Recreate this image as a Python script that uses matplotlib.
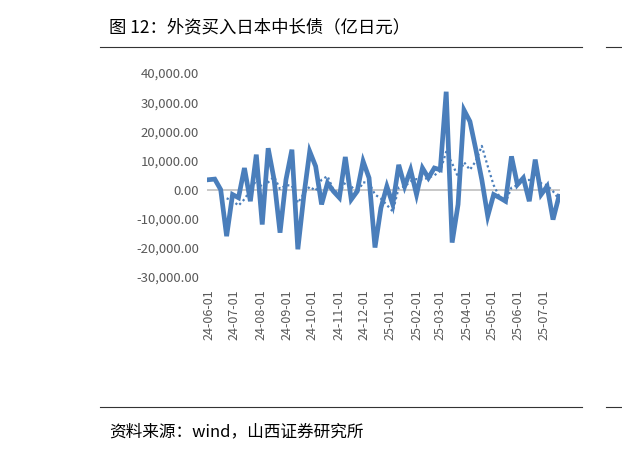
import matplotlib
matplotlib.use("Agg")
import matplotlib.pyplot as plt
import matplotlib.dates as mdates
import numpy as np

plt.rcParams['font.family'] = ['Noto Sans CJK SC', 'DejaVu Sans']

# weekly net purchases (100m yen)
weekly = [3400, 3600, 0, -16000, -1700, -2800, 7400, -4000, 12000, -12000,
          14200, 3400, -14800, 3400, 13700, -20500, -2300, 13100, 8000, -5100,
          2300, -600, -2800, 11200, -3400, -600, 9700, 4000, -19900, -6300,
          1100, -5100, 8500, 1100, 6800, -1700, 7400, 4000, 7400, 6800,
          33600, -18200, -5100, 27300, 23400, 13700, 3400, -9100, -1700, -2800,
          -4000, 11400, 1700, 4000, -4000, 10300, -1700, 1100, -10300, -2300]
# 4-week average (dotted)
avg4 = [None, None, None, -3000, -3800, -5500, -3300, -200, 3200, 800,
        2500, 4400, 200, 1500, 1400, -4600, -1400, 1000, -400, 3400,
        4600, -100, -1400, 2500, 1100, -1100, 2500, 2300, -1700, -3100,
        -5300, -7500, 700, 1100, 2800, 3600, 3400, 4100, 4900, 6400,
        13000, 9000, 4300, 9400, 6800, 9800, 15000, 8000, 1500, -2600,
        -4400, 700, 1500, 3100, 3300, 5500, 2100, 1500, -600, -3300]
dates = np.array('2024-06-01', dtype='datetime64[D]') + np.arange(len(weekly)) * 7
month_ticks = np.arange('2024-06', '2025-08', dtype='datetime64[M]').astype('datetime64[D]')

fig = plt.figure(figsize=(6.22, 4.54), dpi=100)
ax = fig.add_axes([0.333, 0.39, 0.567, 0.449])

blue = '#4a7ebb'
ax.axhline(0, color='#bfbfbf', lw=1.2, zorder=1)
ax.plot(dates, weekly, color=blue, lw=3.4, solid_joinstyle='miter', zorder=3)
av = np.array([np.nan if v is None else v for v in avg4], dtype=float)
ax.plot(dates, av, color=blue, lw=1.6, ls=(0, (1, 1.3)), zorder=2)

ax.set_ylim(-30000, 40000)
ax.set_yticks(np.arange(-30000, 40001, 10000))
ax.yaxis.set_major_formatter(plt.FuncFormatter(lambda v, p: f'{v:,.2f}'))
ax.set_xlim(dates[0] - np.timedelta64(2, 'D'), dates[-1] + np.timedelta64(1, 'D'))
ax.set_xticks(month_ticks)
ax.xaxis.set_major_formatter(mdates.DateFormatter('%y-%m-%d'))
ax.tick_params(axis='x', rotation=90, length=0, labelsize=9, colors='#595959', pad=9)
ax.tick_params(axis='y', length=0, labelsize=9.5, colors='#595959', pad=6)
for s in ax.spines.values():
    s.set_visible(False)

fig.text(0.175, 0.94, '图 12：外资买入日本中长债（亿日元）', fontsize=12.5, va='center')
fig.add_artist(plt.Line2D([0.16, 0.935], [0.897, 0.897], color='#333333', lw=0.8))
fig.add_artist(plt.Line2D([0.975, 1.0], [0.897, 0.897], color='#333333', lw=0.8))
fig.add_artist(plt.Line2D([0.16, 0.935], [0.103, 0.103], color='#333333', lw=0.8))
fig.add_artist(plt.Line2D([0.975, 1.0], [0.103, 0.103], color='#333333', lw=0.8))
fig.text(0.175, 0.048, '资料来源：wind，山西证券研究所', fontsize=12, va='center')

fig.savefig('out.png', dpi=100)
